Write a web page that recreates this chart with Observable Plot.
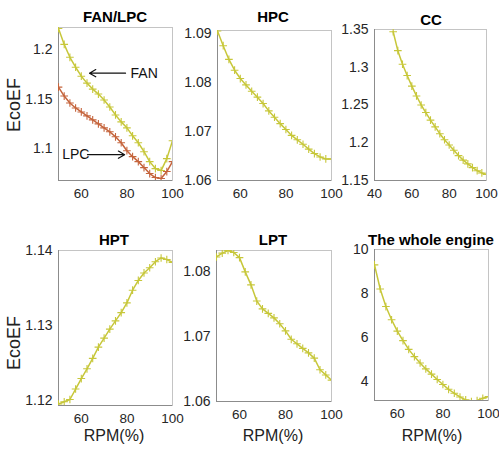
<!DOCTYPE html>
<html><head><meta charset="utf-8">
<script src="https://cdn.jsdelivr.net/npm/d3@7"></script>
<script src="https://cdn.jsdelivr.net/npm/@observablehq/plot@0.6"></script>
<style>
body{margin:0;background:#fff;}
#wrap{position:relative;width:499px;height:454px;overflow:hidden;font-family:"Liberation Sans",Arial,sans-serif;background:#fff;}
.p{position:absolute;}
.t{position:absolute;font-weight:bold;font-size:15px;line-height:18px;color:#000;transform:translateX(-50%);white-space:nowrap;}
.yl{position:absolute;font-size:18px;line-height:20px;color:#222;white-space:nowrap;transform:translate(-50%,-50%) rotate(-90deg);}
.xl{position:absolute;font-size:16px;line-height:20px;color:#222;white-space:nowrap;transform:translate(-50%,-50%);}
</style></head>
<body><div id="wrap"></div>
<script>
// ---- data ----
const rpm = [50,52.5,55,57.5,60,62.5,65,67.5,70,72.5,75,77.5,80,82.5,85,87.5,90,92.5,95,97.5,100];
const fan = [1.221,1.205,1.192,1.182,1.173,1.166,1.160,1.155,1.149,1.142,1.134,1.127,1.121,1.113,1.106,1.097,1.087,1.080,1.078,1.090,1.108];
const lpc = [1.162,1.153,1.146,1.141,1.137,1.133,1.129,1.125,1.121,1.117,1.112,1.106,1.098,1.092,1.087,1.081,1.075,1.071,1.070,1.077,1.087];
const hpc = [1.0905,1.0875,1.0847,1.0825,1.0808,1.0795,1.0782,1.0770,1.0757,1.0742,1.0729,1.0716,1.0704,1.0692,1.0683,1.0674,1.0664,1.0655,1.0648,1.0644,1.0644];
const cc  = [1.347,1.322,1.304,1.289,1.275,1.262,1.250,1.240,1.230,1.221,1.212,1.204,1.197,1.190,1.183,1.177,1.172,1.167,1.163,1.160,1.158];
const hpt = [1.1195,1.1198,1.1201,1.1215,1.1229,1.1242,1.1256,1.1271,1.1283,1.1295,1.1306,1.1317,1.1330,1.1347,1.1360,1.1370,1.1377,1.1385,1.1390,1.1388,1.1384];
const lpt = [1.0823,1.0829,1.0833,1.0830,1.0822,1.0800,1.0780,1.0755,1.0743,1.0736,1.0729,1.0720,1.0709,1.0696,1.0689,1.0682,1.0675,1.0667,1.0649,1.0641,1.0633];
const whole = [9.3,8.2,7.4,6.8,6.28,5.85,5.45,5.12,4.83,4.56,4.32,4.08,3.85,3.63,3.45,3.28,3.15,3.07,3.12,3.22,3.3];

const titles = ["FAN/LPC","HPC","CC","HPT","LPT","The whole engine"];
const yTicks = [[1.1,1.15,1.2],[1.06,1.07,1.08,1.09],[1.15,1.2,1.25,1.3,1.35],[1.12,1.13,1.14],[1.06,1.07,1.08],[4,6,8,10]];
const xTicks = [[60,80,100],[60,80,100],[40,60,80,100],[60,80,100],[60,80,100],[60,80,100]];
const yDomains = [[1.068,1.222],[1.06,1.0906],[1.15,1.35],[1.1193,1.14],[1.06,1.0833],[3.12,10]];
const xDomains = [[50,100],[50,100],[40,100],[50,100],[50,100],[50,100]];
const annoText = [{label:"FAN",x:81.6,y:1.176},{label:"LPC",x:51.6,y:1.094}];
const annoArrows = [{x1:79.4,x2:63.6,y:1.176},{x1:62.7,x2:79.0,y:1.094}];

const yellow = "#c7c73a", orange = "#c5643c";

// ---- layout (plot-area rectangles in page pixels) ----
const boxes = [
  {x0:58,x1:172,y0:27,y1:180},
  {x0:217,x1:331,y0:30,y1:180},
  {x0:374,x1:486,y0:29,y1:180},
  {x0:58,x1:172,y0:250,y1:405},
  {x0:216,x1:331,y0:250,y1:401},
  {x0:374,x1:488,y0:249,y1:400}
];
const titlePos = [[115,8],[273,8],[431,11],[114,231],[273,231],[431,231]];
const series = [[[fan,yellow],[lpc,orange]],[[hpc,yellow]],[[cc,yellow]],[[hpt,yellow]],[[lpt,yellow]],[[whole,yellow]]];

const wrap = document.getElementById("wrap");
const ml=50, mr=14, mt=12, mb=34;

boxes.forEach((b,i)=>{
  const marks = [
    Plot.frame({stroke:"#c4c4c4"}),
    Plot.axisX({ticks:xTicks[i], tickSize:0, tickPadding:8, tickFormat:d=>String(d), fontSize:13.5, label:null}),
    Plot.axisY({ticks:yTicks[i], tickSize:0, tickPadding:6, tickFormat:d=>String(d), fontSize:14, label:null}),
    Plot.ruleY([yDomains[i][0]],{stroke:"#8c8c8c"}),
    Plot.ruleX([xDomains[i][0]],{stroke:"#8c8c8c"})
  ];
  series[i].forEach(([ys,col])=>{
    const d = rpm.map((x,k)=>({x, y:ys[k]}));
    marks.push(Plot.line(d,{x:"x",y:"y",stroke:col,strokeWidth:1.5,clip:true}));
    marks.push(Plot.dot(d,{x:"x",y:"y",symbol:"plus",r:2.6,stroke:col,strokeWidth:1.1,clip:true}));
  });
  if(i===0){
    marks.push(Plot.arrow(annoArrows,{x1:"x1",x2:"x2",y1:"y",y2:"y",stroke:"#111",strokeWidth:1.2,headLength:9}));
    marks.push(Plot.text(annoText,{x:"x",y:"y",text:"label",textAnchor:"start",fontSize:14,fill:"#111"}));
  }
  const svg = Plot.plot({
    width:b.x1-b.x0+ml+mr, height:b.y1-b.y0+mt+mb,
    marginLeft:ml, marginRight:mr, marginTop:mt, marginBottom:mb,
    x:{domain:xDomains[i], label:null}, y:{domain:yDomains[i], label:null},
    style:{background:"transparent",color:"#262626",fontFamily:"'Liberation Sans',Arial,sans-serif",overflow:"visible"},
    marks
  });
  svg.classList.add("p");
  svg.style.left=(b.x0-ml)+"px";
  svg.style.top=(b.y0-mt)+"px";
  wrap.appendChild(svg);
  const t=document.createElement("div");
  t.className="t"; t.textContent=titles[i];
  t.style.left=titlePos[i][0]+"px"; t.style.top=titlePos[i][1]+"px";
  wrap.appendChild(t);
});
[[14,105],[14,343]].forEach(([x,y])=>{
  const d=document.createElement("div"); d.className="yl"; d.textContent="EcoEF";
  d.style.left=x+"px"; d.style.top=y+"px"; wrap.appendChild(d);
});
[[114,436],[273,436],[432,436]].forEach(([x,y])=>{
  const d=document.createElement("div"); d.className="xl"; d.textContent="RPM(%)";
  d.style.left=x+"px"; d.style.top=y+"px"; wrap.appendChild(d);
});
</script></body></html>
